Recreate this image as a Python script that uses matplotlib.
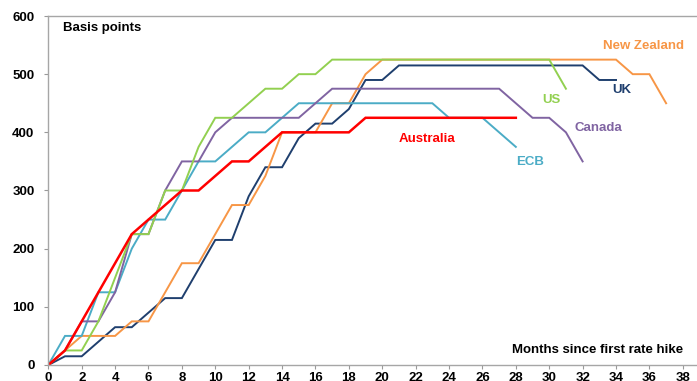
import matplotlib
matplotlib.use("Agg")
import matplotlib.pyplot as plt

plt.rcParams['font.family'] = ['Liberation Sans', 'DejaVu Sans']

# cumulative hikes in basis points, by months since first rate hike
australia = [0, 25, 75, 125, 175, 225, 250, 275, 300, 300, 325, 350, 350, 375, 400,
             400, 400, 400, 400, 425, 425, 425, 425, 425, 425, 425, 425, 425, 425]
us = [0, 25, 25, 75, 150, 225, 225, 300, 300, 375, 425, 425, 450, 475, 475, 500, 500,
      525, 525, 525, 525, 525, 525, 525, 525, 525, 525, 525, 525, 525, 525, 475]
canada = [0, 25, 75, 75, 125, 225, 225, 300, 350, 350, 400, 425, 425, 425, 425, 425,
          450, 475, 475, 475, 475, 475, 475, 475, 475, 475, 475, 475, 450, 425, 425,
          400, 350]
ecb = [0, 50, 50, 125, 125, 200, 250, 250, 300, 350, 350, 375, 400, 400, 425, 450,
       450, 450, 450, 450, 450, 450, 450, 450, 425, 425, 425, 400, 375]
uk = [0, 15, 15, 40, 65, 65, 90, 115, 115, 165, 215, 215, 290, 340, 340, 390, 415,
      415, 440, 490, 490, 515, 515, 515, 515, 515, 515, 515, 515, 515, 515, 515, 515,
      490, 490]
new_zealand = [0, 25, 50, 50, 50, 75, 75, 125, 175, 175, 225, 275, 275, 325, 400, 400,
               400, 450, 450, 500, 525, 525, 525, 525, 525, 525, 525, 525, 525, 525,
               525, 525, 525, 525, 525, 500, 500, 450]

series = [
    ("UK", uk, "#1f3f6e", (33.8, 473)),
    ("New Zealand", new_zealand, "#f79646", (33.2, 548)),
    ("ECB", ecb, "#4bacc6", (28.0, 349)),
    ("Canada", canada, "#8064a2", (31.5, 407)),
    ("US", us, "#92d050", (29.6, 455)),
    ("Australia", australia, "#ff0000", (21.0, 388)),
]

fig = plt.figure(figsize=(6.97, 3.81), dpi=100)
ax = fig.add_axes([0.0693, 0.042, 0.9307, 0.916])

for name, vals, color, (lx, ly) in series:
    lw = 1.8 if name == "Australia" else 1.4
    ax.plot(range(len(vals)), vals, color=color, lw=lw, solid_joinstyle='miter')
    ax.text(lx, ly, name, color=color, fontsize=9.5, fontweight='bold',
            ha='left', va='center')

ax.text(0.9, 579, "Basis points", fontsize=9.5, fontweight='bold', va='center')
ax.text(38.0, 26, "Months since first rate hike", fontsize=9.5, fontweight='bold',
        ha='right', va='center')

ax.set_xlim(0, 38.85)
ax.set_ylim(0, 600)
ax.set_xticks(range(0, 39, 2))
ax.set_yticks(range(0, 601, 100))
for lab in ax.get_xticklabels() + ax.get_yticklabels():
    lab.set_fontweight('bold')
ax.tick_params(axis='both', labelsize=9.5, color='#999999', length=3, width=0.8)
ax.tick_params(axis='y', pad=7)
ax.tick_params(axis='x', pad=2)
for s in ['left', 'bottom', 'top']:
    ax.spines[s].set_color('#a6a6a6')
    ax.spines[s].set_linewidth(1.0)
ax.spines['right'].set_visible(False)

fig.savefig("out.png", dpi=100)
